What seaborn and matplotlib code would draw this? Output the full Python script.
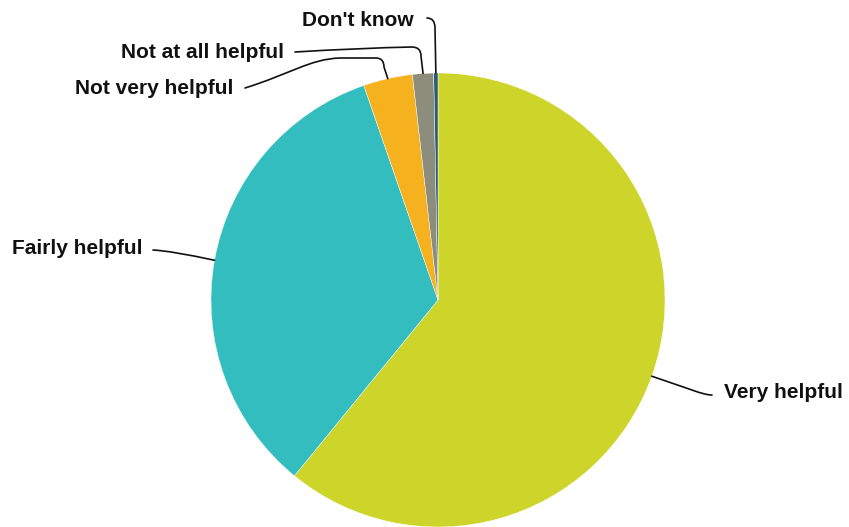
import numpy as np
import matplotlib
matplotlib.use("Agg")
import matplotlib.pyplot as plt
from matplotlib.path import Path
from matplotlib.patches import PathPatch
import seaborn as sns

categories = ["Very helpful", "Fairly helpful", "Not very helpful", "Not at all helpful", "Don't know"]
values = [60.9, 33.8, 3.5, 1.5, 0.3]
colors = ["#CED52A", "#34BDBF", "#F6B11E", "#8C8D7B", "#2B5B75"]

sns.set_theme(style="white")
plt.rcParams['font.family'] = ['Liberation Sans', 'DejaVu Sans']

W, H = 849, 527
fig = plt.figure(figsize=(W / 100, H / 100), dpi=100)
ax = fig.add_axes([0, 0, 1, 1])

cx, cy_s, R = 438, 300, 227
cy = H - cy_s
wedges, _ = ax.pie(values, colors=colors, startangle=90, counterclock=False,
                   center=(cx, cy), radius=R, frame=True,
                   wedgeprops=dict(edgecolor='white', linewidth=0.3))
ax.set_xlim(0, W)
ax.set_ylim(0, H)
ax.set_aspect('equal')
ax.axis('off')

def S(x, y):
    return (x, H - y)

# anchors at wedge mid-angle on the rim
anchors = []
for w in wedges:
    a = np.deg2rad((w.theta1 + w.theta2) / 2)
    anchors.append((cx + R * np.cos(a), cy + R * np.sin(a)))

layout = [
    (724, 393, 'left'),
    (143, 249, 'right'),
    (233, 88, 'right'),
    (284, 53, 'right'),
    (414, 20, 'right'),
]
lw = 1.2
tc = "#111111"

def draw(verts, codes):
    p = Path(verts, codes)
    ax.add_patch(PathPatch(p, fill=False, edgecolor="#111111", lw=lw, capstyle='round', joinstyle='round'))

M, L, C, C4 = Path.MOVETO, Path.LINETO, Path.CURVE3, Path.CURVE4
# Very helpful
a = anchors[0]
draw([a, S(690, 389), S(703, 395), S(712, 395)], [M, C4, C4, C4])
# Fairly helpful
a = anchors[1]
draw([S(153, 250), S(172, 251), a], [M, C, C])
# Not very helpful
a = anchors[2]
draw([S(245, 88), S(290, 74), S(310, 59), S(340, 58), S(376, 58), S(384, 58), S(384, 67), a],
     [M, C4, C4, C4, L, C, C, L])
# Not at all helpful
a = anchors[3]
draw([S(295, 52), S(360, 48), S(412, 47), S(421, 47), S(421, 56), a], [M, C, C, C, C, L])
# Don't know
a = anchors[4]
draw([S(427, 18), S(435, 18), S(435, 28), a], [M, C, C, L])

for (tx, ty, ha), lab in zip(layout, categories):
    ax.text(tx, H - ty, lab, ha=ha, va='center', fontsize=15, fontweight='bold', color=tc)

fig.savefig("out.png", dpi=100)
